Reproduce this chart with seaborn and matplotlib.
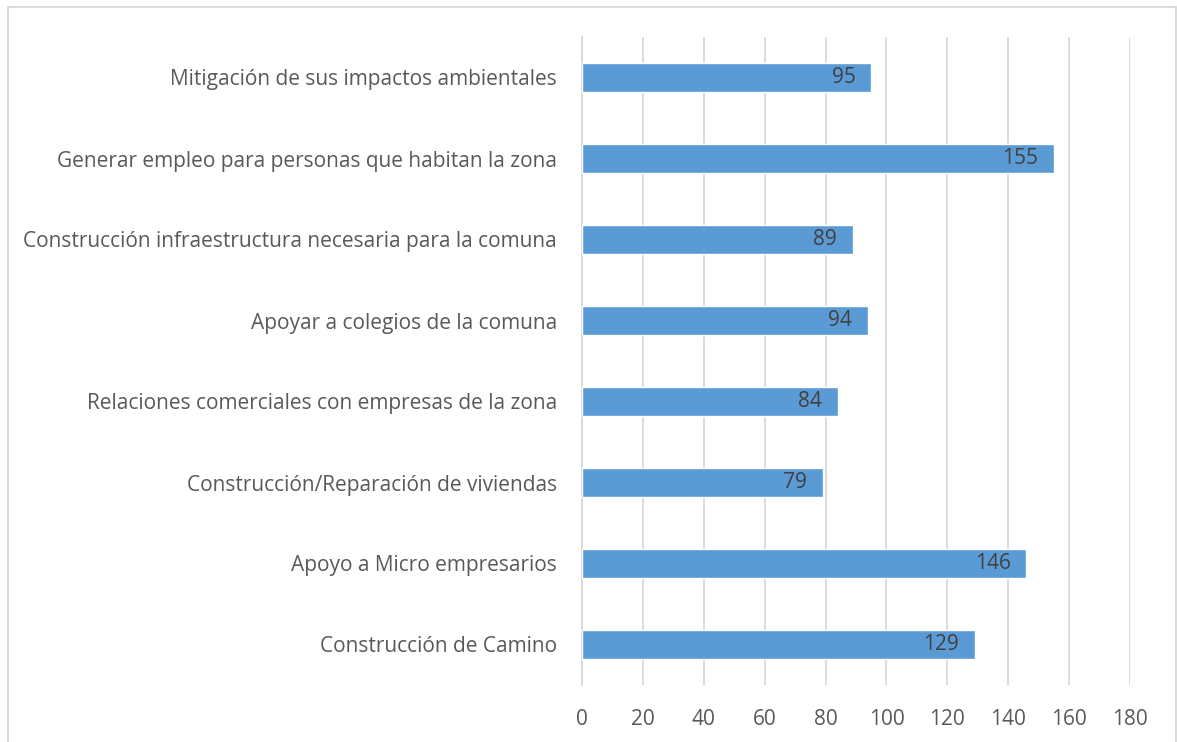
import matplotlib
matplotlib.use("Agg")
import matplotlib.pyplot as plt
import seaborn as sns
import pandas as pd
from matplotlib.patches import Rectangle

# Chart data (top to bottom as shown)
categories = [
    "Mitigación de sus impactos ambientales",
    "Generar empleo para personas que habitan la zona",
    "Construcción infraestructura necesaria para la comuna",
    "Apoyar a colegios de la comuna",
    "Relaciones comerciales con empresas de la zona",
    "Construcción/Reparación de viviendas",
    "Apoyo a Micro empresarios",
    "Construcción de Camino",
]
values = [95, 155, 89, 94, 84, 79, 146, 129]
x_ticks = [0, 20, 40, 60, 80, 100, 120, 140, 160, 180]

BAR_COLOR = "#5b9bd5"
TEXT_COLOR = "#595959"
GRID_COLOR = "#d9d9d9"
FS = 15

sns.set_theme(style="white")
plt.rcParams["font.family"] = ["Open Sans", "DejaVu Sans"]

df = pd.DataFrame({"categoria": categories, "valor": values})

fig = plt.figure(figsize=(11.77, 7.42), dpi=100)
ax = fig.add_axes([582 / 1177, 1 - 685 / 742, 548 / 1177, 648 / 742])

sns.barplot(data=df, x="valor", y="categoria", color=BAR_COLOR,
            width=0.35, saturation=1, ax=ax, zorder=3)

ax.set_xlim(0, 180)
ax.set_xticks(x_ticks)
ax.set_xlabel("")
ax.set_ylabel("")
ax.grid(axis="x", color=GRID_COLOR, linewidth=1.3, zorder=0)
for side in ["top", "right", "bottom"]:
    ax.spines[side].set_visible(False)
ax.spines["left"].set_color(GRID_COLOR)
ax.spines["left"].set_linewidth(1.3)
ax.tick_params(axis="both", length=0, labelsize=FS, colors=TEXT_COLOR)
ax.tick_params(axis="x", pad=17)
ax.tick_params(axis="y", pad=18)

# value labels inside the bar ends
for bar, v in zip(ax.patches, values):
    ax.text(bar.get_width() - 5.2, bar.get_y() + bar.get_height() / 2, str(v),
            ha="right", va="center", fontsize=FS, color="#404040", zorder=4)

# chart frame (open at the bottom like the cropped original)
fig.patches.append(Rectangle((8 / 1177, -0.05), 1168 / 1177, 1.05 - 7 / 742,
                             transform=fig.transFigure, fill=False,
                             edgecolor=GRID_COLOR, linewidth=1.3))

fig.savefig("out.png", dpi=100)
